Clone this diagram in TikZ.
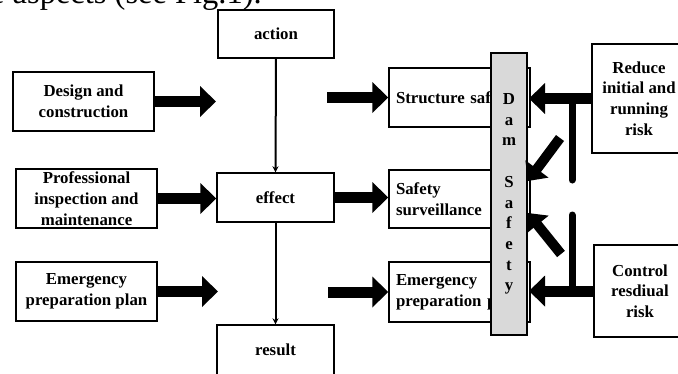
\documentclass[tikz,border=0pt]{standalone}
\usepackage{fontspec}
\setmainfont{Liberation Serif}
\usetikzlibrary{arrows.meta}
\begin{document}
\begin{tikzpicture}[x=1pt,y=-1pt,
  bx/.style={draw, line width=1.4pt, inner sep=0pt, align=center,
    font=\bfseries\fontsize{16.8}{20.7}\selectfont},
  rbx/.style={bx, text width=127pt, align=left},
  blockarrow/.style={line width=11pt, -{Triangle[length=16pt,width=30pt]}},
  diagarrow/.style={line width=10pt, -{Triangle[length=15pt,width=28pt]}},
  thinarrow/.style={line width=2pt, -{Stealth[length=6pt,width=6pt]}},
  riser/.style={line width=7pt, line cap=round}]
\useasboundingbox (0,0) rectangle (678,373);

\node[anchor=base east, inner sep=0pt, font=\fontsize{32.5}{39}\selectfont] (toptext) at (262,3.5) {e aspects (see Fig.1).};

% centre column
\node[bx, minimum width=116pt, minimum height=48pt] (action) at (276,34) {action};
\node[bx, minimum width=117pt, minimum height=49pt] (effect) at (275.5,197.5) {effect};
\node[bx, minimum width=117pt, minimum height=50pt] (result) at (275.5,350) {result};

% left column
\node[bx, minimum width=141pt, minimum height=59pt] (design) at (83.5,101.5) {Design and\\construction};
\node[bx, minimum width=141pt, minimum height=59pt] (prof) at (86.5,198.5) {Professional\\inspection and\\maintenance};
\node[bx, minimum width=141pt, minimum height=59pt] (emerg) at (86.5,291.5) {Emergency\\preparation plan};

% right column
\node[rbx, minimum width=141pt, minimum height=59pt] (struct) at (459.5,97.5) {Structure saf};
\node[rbx, minimum width=141pt, minimum height=58pt] (safety) at (459.5,199) {Safety\\surveillance};
\node[rbx, minimum width=141pt, minimum height=60pt] (emprep) at (459.5,292) {Emergency\\preparation p};

% dam safety bar
\node[bx, fill=black!15, minimum width=36pt, minimum height=282pt] (bar) at (509,194)
  {D\\a\\m\\[20.7pt]S\\a\\f\\e\\t\\y};

% risk boxes
\node[bx, minimum width=94pt, minimum height=109pt] (reduce) at (639,98.5) {Reduce\\initial and\\running\\risk};
\node[bx, minimum width=92pt, minimum height=92pt] (control) at (640,291) {Control\\resdiual\\risk};

% thin arrows
\draw[thinarrow] (action.south) -- (effect.north);
\draw[thinarrow] (effect.south) -- (result.north);

% left block arrows
\coordinate (dtip) at (216,101.5);
\coordinate (etip) at (218,291.5);
\draw[blockarrow] (design.east) -- (dtip);
\draw[blockarrow] (prof.east) -- (prof.east -| effect.west);
\draw[blockarrow] (emerg.east) -- (etip);

% middle block arrows
\coordinate (sstart) at (327,97.5);
\coordinate (estart) at (328,292);
\draw[blockarrow] (sstart) -- (struct.west);
\draw[blockarrow] (effect.east) -- (effect.east -| safety.west);
\draw[blockarrow] (estart) -- (emprep.west);

% right side arrows
\coordinate (rtip) at (529,98.5);
\coordinate (ctip) at (529,291);
\draw[blockarrow] (reduce.west) -- (rtip);
\draw[blockarrow] (control.west) -- (ctip);

\coordinate (rj) at (572,98.5);
\coordinate (rend) at (572,180);
\coordinate (cj) at (572,291);
\coordinate (cend) at (572,215);
\draw[riser] (rj) -- (rend);
\draw[riser] (cend) -- (cj);

\coordinate (d1s) at (560,138);
\coordinate (d1t) at (528,181);
\coordinate (d2s) at (561,254);
\coordinate (d2t) at (528,213);
\draw[diagarrow] (d1s) -- (d1t);
\draw[diagarrow] (d2s) -- (d2t);
\end{tikzpicture}
\end{document}
